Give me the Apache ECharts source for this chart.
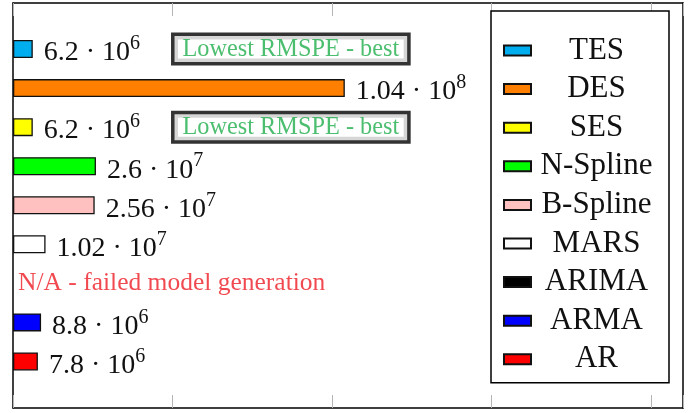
<!DOCTYPE html>
<html><head><meta charset="utf-8">
<script src="https://cdn.jsdelivr.net/npm/echarts@6/dist/echarts.min.js"></script>
<style>html,body{margin:0;padding:0;background:#fff}#c{width:697px;height:413px}</style>
</head><body><div id="c"></div>
<script>
const models = ['TES','DES','SES','N-Spline','B-Spline','MARS','ARIMA','ARMA','AR'];
const rmspe = [6.2e6, 1.04e8, 6.2e6, 2.6e7, 2.56e7, 1.02e7, null, 8.8e6, 7.8e6];
const colors = ['#00aeef','#ff8000','#ffff00','#00ff00','#ffc0c0','#ffffff','#000000','#0000ff','#ff0000'];
const xInterval = 5e7;
const xMax = 2.1e8;
const bestModels = ['TES','SES'];
const bestNote = 'Lowest RMSPE - best';
const failedModels = ['ARIMA'];
const failedNote = 'N/A - failed model generation';

const SERIF = 'Liberation Serif';

function sci(v){
  const e = Math.floor(Math.log10(v));
  const m = parseFloat((v/Math.pow(10,e)).toPrecision(3));
  return '{m|' + m + ' \u00b7 10}{e|' + e + '}';
}

const chart = echarts.init(document.getElementById('c'), null, {renderer:'canvas'});

const barSeries = models.map((name, i) => ({
  name: name,
  type: 'bar',
  stack: 'all',
  xAxisIndex: 2, yAxisIndex: 2,
  barWidth: 18,
  itemStyle: {color: colors[i], borderColor: '#111', borderWidth: 1.3},
  label: {
    show: true, position: 'right', distance: 11, offset: [0, 4],
    formatter: p => sci(p.value),
    rich: {
      m: {fontSize: 28, fontFamily: SERIF, color: '#111', lineHeight: 30, verticalAlign: 'middle'},
      e: {fontSize: 20, fontFamily: SERIF, color: '#111', verticalAlign: 'top', lineHeight: 38}
    }
  },
  data: models.map((c, j) => (j === i && rmspe[i] != null) ? rmspe[i] : '-')
}));

const frameAxisLine = {show: true, onZero: false, lineStyle: {color: '#000', width: 1.5}};
const frameTick = {show: true, inside: true, length: 13, lineStyle: {color: '#b5b5b5', width: 1}};

const option = {
  animation: false,
  backgroundColor: '#fff',
  grid: [
    {left: 13, right: 14, top: 3, bottom: 5},
    {left: 13, right: 14, top: 29.5, bottom: 32}
  ],
  xAxis: [
    {gridIndex: 0, type: 'value', position: 'bottom', min: 0, max: xMax, interval: xInterval,
     axisLine: frameAxisLine, axisTick: frameTick, axisLabel: {show: false}, splitLine: {show: false}},
    {gridIndex: 0, type: 'value', position: 'top', min: 0, max: xMax, interval: xInterval,
     axisLine: frameAxisLine, axisTick: frameTick, axisLabel: {show: false}, splitLine: {show: false}},
    {gridIndex: 1, type: 'value', min: 0, max: xMax, show: false}
  ],
  yAxis: [
    {gridIndex: 0, type: 'value', position: 'left', min: 0, max: 1,
     axisLine: frameAxisLine, axisTick: {show: false}, axisLabel: {show: false}, splitLine: {show: false}},
    {gridIndex: 0, type: 'value', position: 'right', min: 0, max: 1,
     axisLine: frameAxisLine, axisTick: {show: false}, axisLabel: {show: false}, splitLine: {show: false}},
    {gridIndex: 1, type: 'category', data: models, inverse: true, show: false}
  ],
  legend: {
    data: models,
    orient: 'vertical',
    left: 491, top: 11,
    padding: [24, 12, 8, 12],
    itemWidth: 27, itemHeight: 10,
    itemGap: 7.6,
    icon: 'rect',
    borderColor: '#000', borderWidth: 1.5,
    backgroundColor: '#fff',
    selectedMode: false,
    formatter: n => '{t|' + n + '}',
    textStyle: {
      rich: {t: {width: 121, align: 'center', fontSize: 31, lineHeight: 30, fontFamily: SERIF, color: '#111'}}
    }
  },
  series: barSeries.concat([
    {
      type: 'scatter', name: 'best-note',
      xAxisIndex: 2, yAxisIndex: 2,
      symbolSize: 0, silent: true,
      label: {
        show: true, position: 'right', distance: 2,
        formatter: '{t|' + bestNote + '}',
        borderColor: '#000', borderWidth: 3.5, padding: [1, 8, 0, 8], backgroundColor: '#fff',
        rich: {t: {color: '#1fae4b', fontSize: 24.3, lineHeight: 25, fontFamily: SERIF}}
      },
      data: bestModels.map(c => [xInterval, c])
    },
    {
      type: 'scatter', name: 'failed-note',
      xAxisIndex: 2, yAxisIndex: 2,
      symbolSize: 0, silent: true,
      label: {
        show: true, position: 'right', distance: 5,
        formatter: '{t|' + failedNote + '}',
        rich: {t: {color: '#ed1c24', fontSize: 25.5, fontFamily: SERIF}}
      },
      data: failedModels.map(c => [0, c])
    }
  ])
};
chart.setOption(option);
</script></body></html>
